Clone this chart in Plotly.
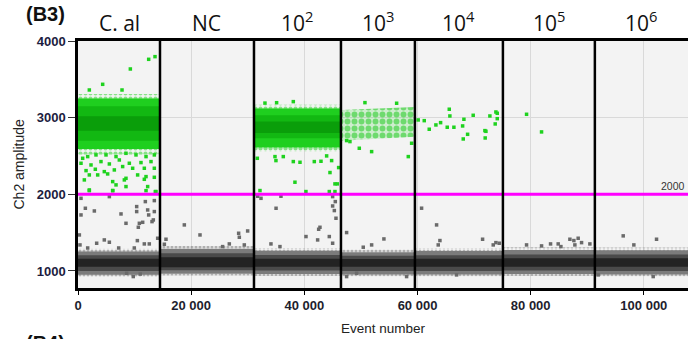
import plotly.graph_objects as go

# ---------------- data ----------------
well_labels = ["C. al", "NC", "10<sup>2</sup>", "10<sup>3</sup>", "10<sup>4</sup>", "10<sup>5</sup>", "10<sup>6</sup>"]
well_start = [0, 14490, 31100, 46470, 59540, 75090, 91340]
well_end = [14490, 31100, 46470, 59540, 75090, 91340, 107800]

threshold = 2000

# negative (gray) droplet band per well: outer / mid / core limits
gray_outer_lo = [950, 965, 960, 955, 955, 960, 955]
gray_outer_hi = [1255, 1290, 1265, 1245, 1260, 1275, 1270]
gray_mid_lo = [1000, 1010, 1005, 1000, 1000, 1005, 1000]
gray_mid_hi = [1205, 1230, 1210, 1200, 1205, 1215, 1215]
gray_core_lo = [1055, 1050, 1055, 1055, 1055, 1055, 1055]
gray_core_hi = [1160, 1180, 1160, 1155, 1160, 1165, 1165]

# dense positive (green) clouds
green_dense_well = [0, 2]          # C. al, 10^2
green_edge_lo = [2520, 2560]
green_edge_hi = [3310, 3170]
green_outer_lo = [2590, 2610]
green_outer_hi = [3250, 3120]
green_mid_lo = [2700, 2730]
green_mid_hi = [3150, 3030]
green_core_lo = [2830, 2800]
green_core_hi = [3020, 2950]

# moderately dense cloud, 10^3 well (left edge, right edge)
sparse_cloud_well = 3
sparse_cloud_lo = [2700, 2750]
sparse_cloud_hi = [3100, 3140]

# individual positive droplets
green_x = [825, 1710, 3180, 4950, 6720, 8480, 10250, 12020, 13490, 530, 2300, 4060, 5540, 7300,
           9070, 11130, 12900, 1420, 3060, 4650, 6420, 7890, 9660, 11720, 13490, 2000, 3480,
           5240, 8480, 10540, 12020, 1120, 6130, 8190, 11720, 13490, 6720, 8480, 12310, 2000,
           6130, 13780, 2000, 6130, 12020, 13660,
           2000, 4360, 7780, 9250, 12490, 13610,
           31690, 34810, 34980, 36280, 38050, 39230, 41760, 42940, 43940, 44820, 44530, 38340,
           45410, 45820, 46060, 40280, 44410, 45410, 32160, 33040, 35100, 38050,
           49710, 51890, 58370, 58960, 50710, 56310, 47470, 48060,
           60120, 61190, 62070, 63250, 64080, 65610, 65720, 65250, 66430, 68080, 68850,
           69840, 68200, 67970, 72790, 73850, 74090, 74090, 73730, 71910, 72090, 71960,
           79270, 81920]
green_y = [2470, 2492, 2514, 2514, 2492, 2535, 2514, 2492, 2514, 2405, 2383, 2427, 2396, 2448,
           2405, 2414, 2427, 2309, 2327, 2296, 2318, 2362, 2340, 2340, 2340, 2253, 2253,
           2266, 2209, 2253, 2231, 2188, 2166, 2188, 2196, 2222, 2123, 2101, 2101, 2057,
           2049, 2036, 2048, 2048, 2048, 2035,
           3361, 3435, 3361, 3635, 3761, 3796,
           2470, 2492, 2440, 2492, 2427, 2418, 2427, 2431, 2501, 2440, 2284, 2158,
           2136, 2136, 2349, 2036, 2036, 2036, 2049, 3190, 3195, 3209,
           2601, 2557, 2492, 2666, 3196, 3188, 2701, 2688,
           2970, 2961, 2849, 2905, 2935, 3110, 3022, 2875, 2875, 2722, 2783,
           3031, 2979, 2892, 3022, 3074, 3057, 2987, 2918, 2831, 2822, 2735,
           3044, 2814]

# individual negative droplets above / below the band
gray_x = [530, 5540, 1300, 2890, 530, 7600, 10370, 10370, 11900, 13490, 12310, 13490, 12490,
          13310, 13080, 8480, 10840, 11430, 10660, 240, 350, 3300, 4650, 5540, 10490, 11720,
          12600, 14080, 7190, 9950, 1710, 9770, 8600, 11000,
          18790, 21560, 15550, 15260, 28390, 28510, 29980, 26740, 29390, 25560,
          31750, 32340, 35870, 35000, 45000, 45470, 45000, 45300, 45590, 42760, 42530, 40290,
          42350, 45000, 34100, 35690, 44410,
          47470, 54060, 47470, 49240, 58070, 51890, 50410,
          60720, 63370, 63960, 63660, 66900, 71500, 73380, 73850, 74440,
          79270, 81920, 83510, 84860, 86930, 87630, 88390, 87810, 88990, 90460, 85340,
          96350, 98230, 102240, 101650, 91930]
gray_y = [1948, 1970, 1818, 1783, 1731, 1744, 1840, 1775, 1905, 1918, 1796, 1775, 1731,
          1666, 1644, 1622, 1622, 1635, 1570, 1470, 1340, 1362, 1405, 1375, 1396, 1353,
          1353, 1427, 1300, 1300, 1300, 927, 971, 960,
          1601, 1470, 1414, 1349, 1492, 1440, 1522, 1353, 1340, 1318,
          1975, 1948, 1975, 1818, 1970, 1905, 1848, 1788, 1688, 1570, 1544, 1449,
          1405, 1362, 1353, 1318, 1449,
          1501, 1418, 927, 971, 927, 1340, 1310,
          1819, 1601, 1397, 1340, 949, 1414, 1340, 1370, 1362,
          1340, 1327, 1353, 1353, 1414, 1397, 1427, 1340, 1370, 1353, 1318,
          1458, 1340, 1414, 927, 949]

x_ticks = [0, 20000, 40000, 60000, 80000, 100000]
x_tick_text = ["0", "20 000", "40 000", "60 000", "80 000", "100 000"]
y_ticks = [1000, 2000, 3000, 4000]
y_tick_text = ["1000", "2000", "3000", "4000"]
x_range = [0, 107800]
y_range = [778, 4000]

# ---------------- figure ----------------
fig = go.Figure()


def band(x0, x1, lo0, lo1, hi0, hi1, color=None, pattern=None):
    kw = dict(x=[x0, x1, x1, x0, x0], y=[lo0, lo1, hi1, hi0, lo0], fill="toself",
              mode="lines", line=dict(width=0), hoverinfo="skip", showlegend=False)
    if pattern:
        kw["fillcolor"] = "rgba(0,0,0,0)"
        kw["fillpattern"] = pattern
    else:
        kw["fillcolor"] = color
    fig.add_trace(go.Scatter(**kw))


# gray bands
for i in range(len(well_start)):
    s, e = well_start[i], well_end[i]
    band(s, e, gray_outer_lo[i] - 25, gray_outer_lo[i] - 25, gray_outer_hi[i] + 35, gray_outer_hi[i] + 35,
         pattern=dict(shape=".", fgcolor="#6e6e6e", bgcolor="rgba(0,0,0,0)", size=4, solidity=0.5))
    band(s, e, gray_outer_lo[i], gray_outer_lo[i], gray_outer_hi[i], gray_outer_hi[i], color="#7b7b7b")
    band(s, e, gray_mid_lo[i], gray_mid_lo[i], gray_mid_hi[i], gray_mid_hi[i], color="#4a4a4a")
    band(s, e, gray_core_lo[i], gray_core_lo[i], gray_core_hi[i], gray_core_hi[i], color="#232323")

# dense green clouds
for k, w in enumerate(green_dense_well):
    s, e = well_start[w], well_end[w]
    band(s, e, green_edge_lo[k], green_edge_lo[k], green_edge_hi[k], green_edge_hi[k],
         pattern=dict(shape=".", fgcolor="#1ed21e", bgcolor="rgba(0,0,0,0)", size=5, solidity=0.55))
    band(s, e, green_outer_lo[k], green_outer_lo[k], green_outer_hi[k], green_outer_hi[k], color="#1fcf1f")
    band(s, e, green_mid_lo[k], green_mid_lo[k], green_mid_hi[k], green_mid_hi[k], color="#12b812")
    band(s, e, green_core_lo[k], green_core_lo[k], green_core_hi[k], green_core_hi[k], color="#0a9e0a")

# 10^3 cloud
w = sparse_cloud_well
band(well_start[w], well_end[w], sparse_cloud_lo[0], sparse_cloud_lo[1], sparse_cloud_hi[0], sparse_cloud_hi[1],
     pattern=dict(shape=".", fgcolor="#0fc80f", bgcolor="rgba(40,210,40,0.18)", size=7, solidity=0.55))

# single droplets
fig.add_trace(go.Scatter(x=gray_x, y=gray_y, mode="markers", hoverinfo="skip", showlegend=False,
                         marker=dict(symbol="square", size=3.5, color="#6a6a6a", line=dict(width=0))))
fig.add_trace(go.Scatter(x=green_x, y=green_y, mode="markers", hoverinfo="skip", showlegend=False,
                         marker=dict(symbol="square", size=3.5, color="#1ed21e", line=dict(width=0))))

# threshold line
fig.add_shape(type="line", xref="paper", x0=0, x1=1, yref="y", y0=threshold, y1=threshold,
              line=dict(color="#ff00ff", width=3))

# well separators
for s in well_start[1:]:
    fig.add_shape(type="line", xref="x", x0=s, x1=s, yref="paper", y0=0, y1=1,
                  line=dict(color="black", width=2.5))

ann = []
for lab, s, e in zip(well_labels, well_start, well_end):
    ann.append(dict(text=lab, x=(s + e) / 2, xref="x", y=1, yref="paper", yanchor="bottom",
                    xanchor="center", yshift=2, showarrow=False,
                    font=dict(family="Open Sans", size=21, color="#111111")))
ann.append(dict(text=str(threshold), x=1, xref="paper", y=threshold, yref="y", xanchor="right",
                yanchor="bottom", xshift=-1, yshift=0, showarrow=False,
                font=dict(family="Liberation Sans, Arial", size=10.5, color="#333333")))
ann.append(dict(text="(B3)", x=-0.0525, xref="paper", y=1.109, yref="paper", xanchor="center",
                yanchor="middle", showarrow=False,
                font=dict(family="Liberation Sans, Arial", size=20, color="#111111", weight="bold")))
ann.append(dict(text="(B4)", x=-0.0525, xref="paper", y=-0.17, yref="paper", xanchor="center",
                yanchor="top", showarrow=False,
                font=dict(family="Liberation Sans, Arial", size=20, color="#111111", weight="bold")))
ann.append(dict(text="Ch2 amplitude", x=-0.0975, xref="paper", y=0.498, yref="paper", textangle=-90,
                xanchor="center", yanchor="middle", showarrow=False,
                font=dict(family="Liberation Sans, Arial", size=14, color="#222222")))
ann.append(dict(text="Event number", x=0.5, xref="paper", y=-0.162, yref="paper",
                xanchor="center", yanchor="middle", showarrow=False,
                font=dict(family="Liberation Sans, Arial", size=13.5, color="#222222")))

fig.update_layout(
    width=688, height=339,
    margin=dict(l=78, r=0, t=41, b=51),
    paper_bgcolor="white", plot_bgcolor="#f3f3f3",
    annotations=ann, showlegend=False,
    xaxis=dict(range=x_range, tickvals=x_ticks, ticktext=x_tick_text, showgrid=True,
               gridcolor="#d9d9d9", gridwidth=1, zeroline=False, showline=True, linecolor="black",
               linewidth=2.5, mirror=True, ticks="outside", ticklen=4, tickcolor="black",
               tickfont=dict(family="Liberation Sans, Arial", size=13, color="#1e1e2e", weight="bold")),
    yaxis=dict(range=y_range, tickvals=y_ticks, ticktext=y_tick_text, showgrid=True,
               gridcolor="#d9d9d9", gridwidth=1, zeroline=False, showline=True, linecolor="black",
               linewidth=2.5, ticks="outside", ticklen=7, tickcolor="#333333",
               tickfont=dict(family="Liberation Sans, Arial", size=13, color="#1c1c40", weight="bold")),
)

fig.write_html("out.html", config={"displayModeBar": False},
               post_script="document.body.style.margin='0px';document.body.style.overflow='hidden';")
